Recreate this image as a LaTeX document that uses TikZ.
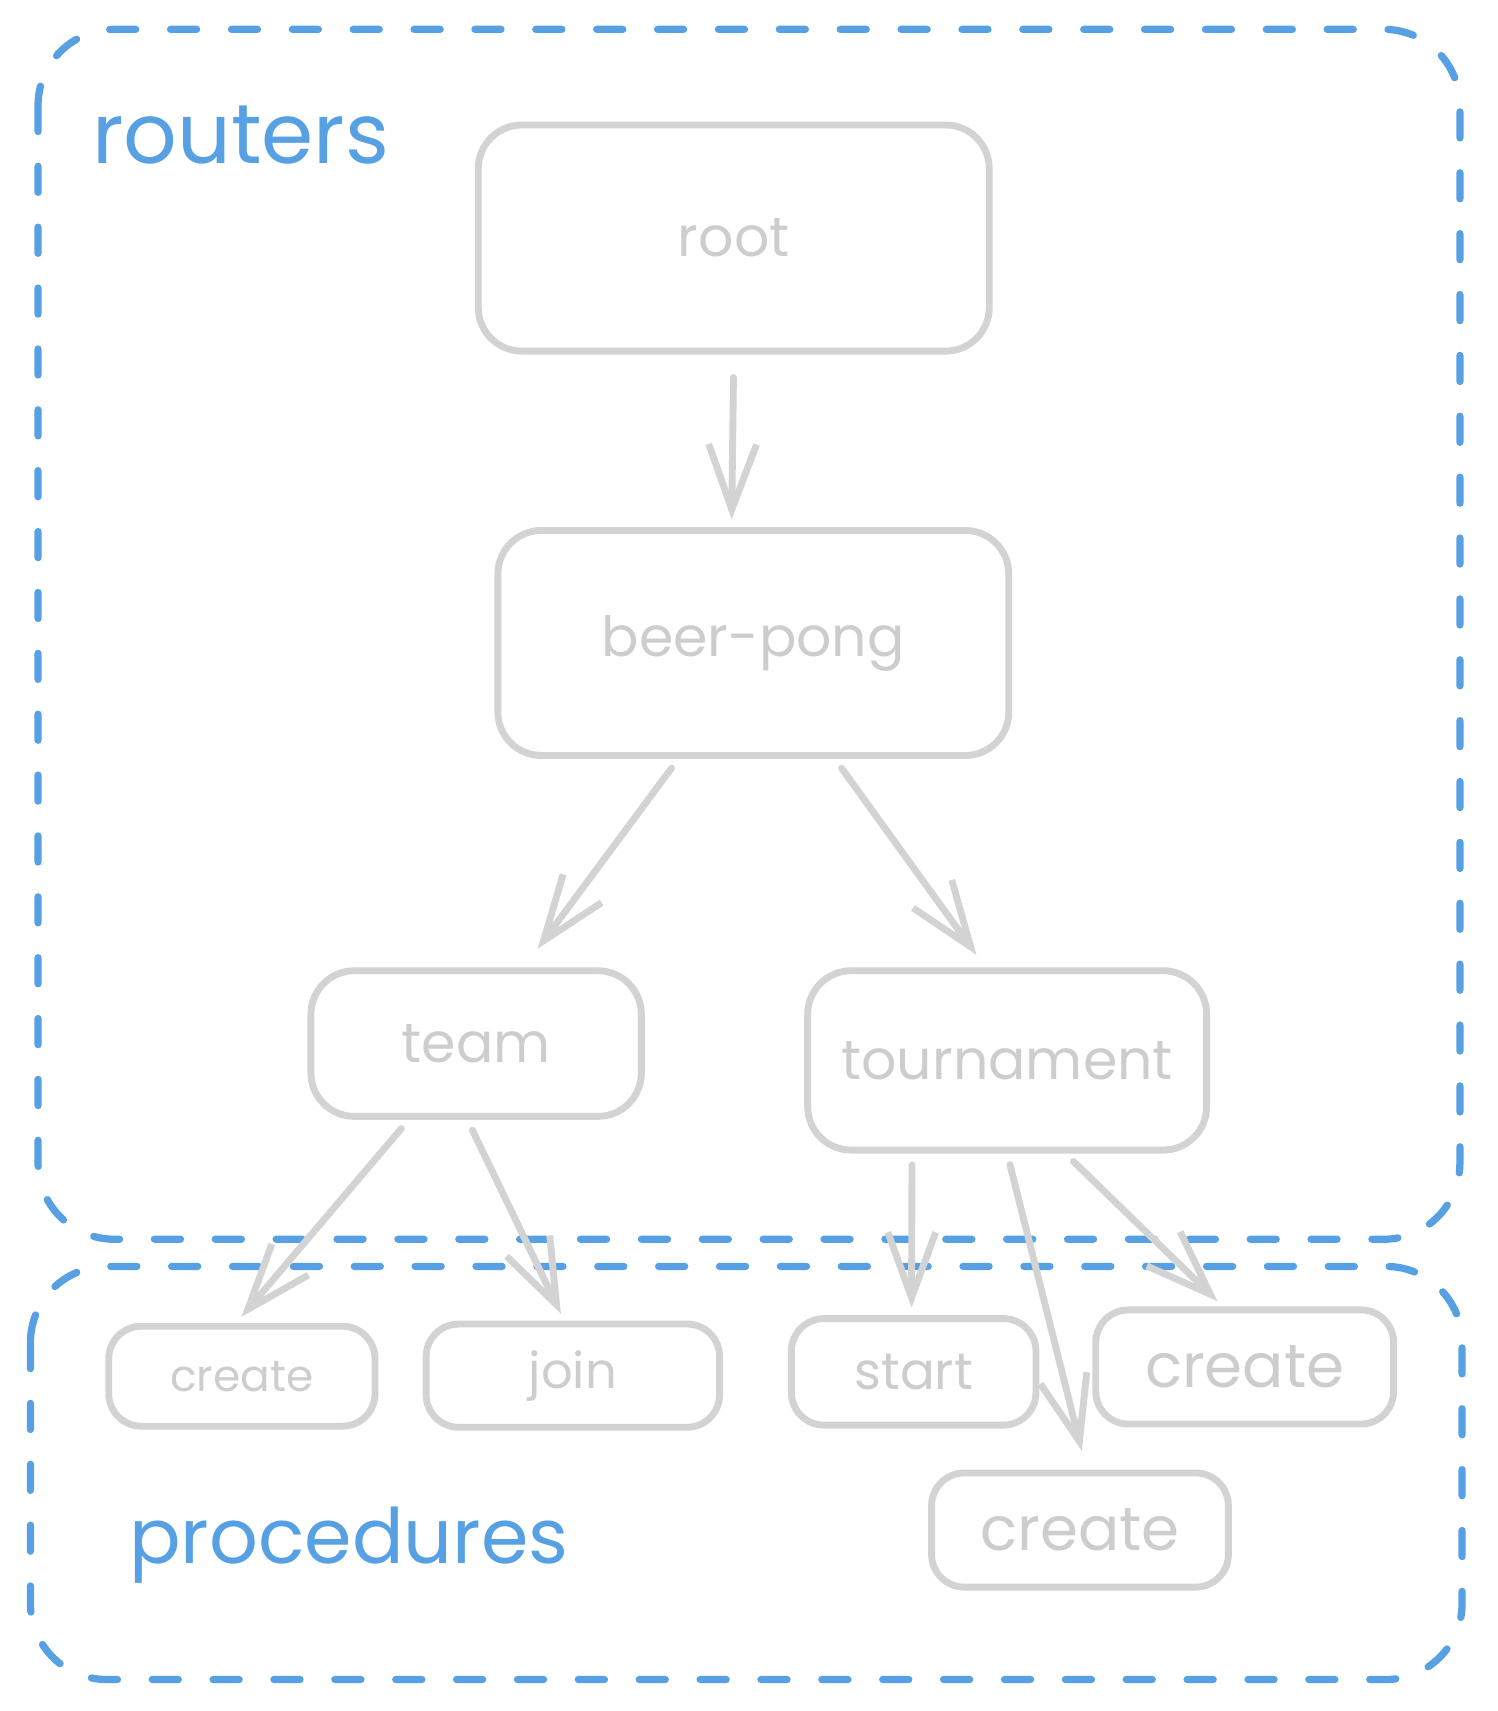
\documentclass[tikz,border=0pt]{standalone}
\usepackage{fontspec}
\setmainfont{Poppins}
\usetikzlibrary{arrows.meta}
\definecolor{boxgray}{HTML}{D3D3D3}
\definecolor{textgray}{HTML}{CDCDCD}
\definecolor{groupblue}{HTML}{56A0E3}
\begin{document}
\begin{tikzpicture}[line width=1.8pt, line cap=round, line join=round,
  main node/.style={rectangle,rounded corners=0.4cm,draw=boxgray,text=textgray,inner sep=0pt,font=\fontsize{14.5}{16}\selectfont},
  leaf node/.style={main node,rounded corners=0.3cm},
  group box/.style={draw=groupblue,line width=1.9pt,dash pattern=on 2.4mm off 3.2mm,rounded corners=0.7cm},
  group label/.style={text=groupblue,anchor=base west,font=\fontsize{21}{24}\selectfont},
  every edge/.style={draw=boxgray,-{Straight Barb[length=6mm,width=4.4mm]},shorten <=3pt,shorten >=2pt}]
\useasboundingbox (0,0) rectangle (13.78,-15.74);
%groups
\draw[group box] (0.35,-0.27) rectangle (13.43,-11.40);
\draw[group box] (0.28,-11.65) rectangle (13.45,-15.45);
\node[group label,font=\fontsize{22}{25}\selectfont] (routers) at (0.70,-1.50) {routers};
\node[group label,font=\fontsize{20}{23}\selectfont] (procs) at (1.04,-14.38) {procedures};
%routers
\node[main node,minimum width=4.70cm,minimum height=2.08cm] (root) at (6.75,-2.19) {root};
\node[main node,minimum width=4.70cm,minimum height=2.07cm] (beerpong) at (6.93,-5.915) {beer-pong};
\node[main node,minimum width=3.04cm,minimum height=1.34cm] (team) at (4.38,-9.60) {team};
\node[main node,minimum width=3.67cm,minimum height=1.65cm] (tourn) at (9.265,-9.755) {tournament};
%procedures
\node[leaf node,minimum width=2.45cm,minimum height=0.92cm,font=\fontsize{11.5}{13}\selectfont] (create1) at (2.225,-12.66) {create};
\node[leaf node,minimum width=2.70cm,minimum height=0.95cm,font=\fontsize{13}{15}\selectfont] (join) at (5.27,-12.655) {join};
\node[leaf node,minimum width=2.25cm,minimum height=0.98cm,font=\fontsize{13.5}{15}\selectfont] (start) at (8.405,-12.62) {start};
\node[leaf node,minimum width=2.74cm,minimum height=1.05cm,font=\fontsize{16}{18}\selectfont] (create2) at (11.45,-12.575) {create};
\node[leaf node,minimum width=2.73cm,minimum height=1.05cm,font=\fontsize{16}{18}\selectfont] (create3) at (9.935,-14.075) {create};
\path
    (root.south) edge [shorten <=6pt] ([xshift=-2mm]beerpong.north)
    ([xshift=-6.9mm]beerpong.south) edge [shorten >=6pt] ([xshift=4.4mm]team.north)
    ([xshift=7.5mm]beerpong.south) edge [shorten >=4pt] ([xshift=-2mm]tourn.north)
    ([xshift=-6.2mm]team.south) edge ([xshift=-0.5mm]create1.north)
    ([xshift=-0.8mm]team.south) edge ([xshift=-0.8mm]join.north)
    ([xshift=-8.75mm]tourn.south) edge ([xshift=-0.2mm]start.north)
    (tourn.south) edge [shorten >=5pt] ([xshift=0.6mm]create3.north)
    ([xshift=5.35mm]tourn.south) edge ([xshift=-2mm]create2.north)
    ;
\end{tikzpicture}
\end{document}
